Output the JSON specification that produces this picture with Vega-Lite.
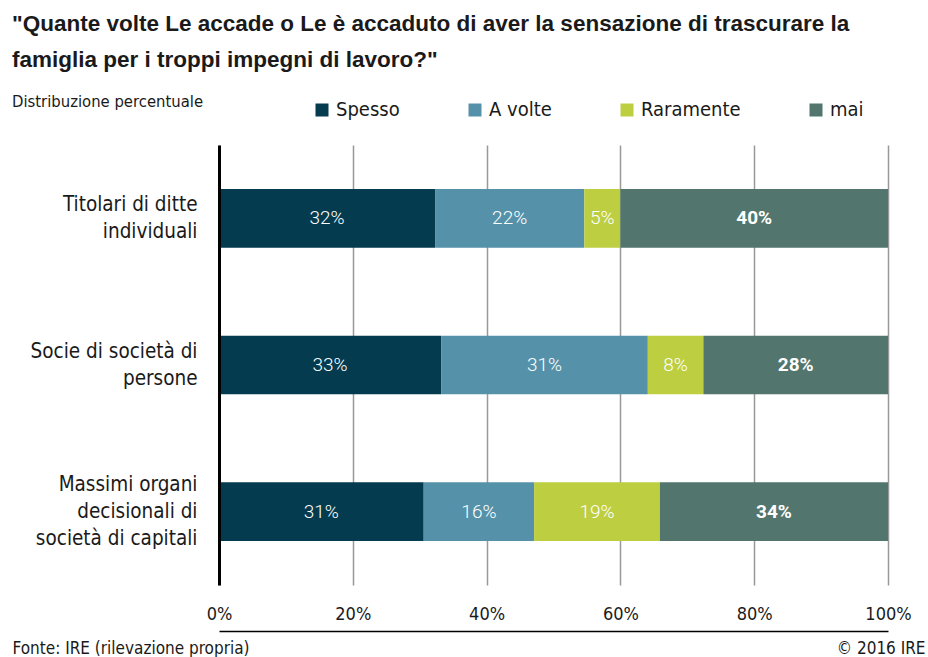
{
  "$schema": "https://vega.github.io/schema/vega-lite/v6.json",
  "width": 669,
  "height": 440,
  "autosize": {"type": "none"},
  "padding": {"left": 219, "top": 145, "right": 40, "bottom": 72},
  "background": "white",
  "config": {
    "view": {"stroke": null},
    "font": "DejaVu Sans Condensed, sans-serif"
  },
  "title": {
    "text": ["\"Quante volte Le accade o Le è accaduto di aver la sensazione di trascurare la", "famiglia per i troppi impegni di lavoro?\""],
    "subtitle": "Distribuzione percentuale",
    "anchor": "start",
    "frame": "group",
    "dx": -207,
    "font": "Liberation Sans",
    "fontSize": 22.5,
    "fontWeight": "bold",
    "lineHeight": 36,
    "color": "#1a1a1a",
    "subtitleFont": "DejaVu Sans Condensed",
    "subtitleFontSize": 16.5,
    "subtitleColor": "#1a1a1a",
    "subtitlePadding": 22,
    "offset": -10
  },
  "data": {
    "values": [
      {"cat": "Titolari di ditte|individuali", "resp": "Spesso", "ord": 1, "value": 32.3, "label": "32%"},
      {"cat": "Titolari di ditte|individuali", "resp": "A volte", "ord": 2, "value": 22.3, "label": "22%"},
      {"cat": "Titolari di ditte|individuali", "resp": "Raramente", "ord": 3, "value": 5.4, "label": "5%"},
      {"cat": "Titolari di ditte|individuali", "resp": "mai", "ord": 4, "value": 40.0, "label": "40%"},
      {"cat": "Socie di società di|persone", "resp": "Spesso", "ord": 1, "value": 33.2, "label": "33%"},
      {"cat": "Socie di società di|persone", "resp": "A volte", "ord": 2, "value": 30.9, "label": "31%"},
      {"cat": "Socie di società di|persone", "resp": "Raramente", "ord": 3, "value": 8.3, "label": "8%"},
      {"cat": "Socie di società di|persone", "resp": "mai", "ord": 4, "value": 27.6, "label": "28%"},
      {"cat": "Massimi organi|decisionali di|società di capitali", "resp": "Spesso", "ord": 1, "value": 30.6, "label": "31%"},
      {"cat": "Massimi organi|decisionali di|società di capitali", "resp": "A volte", "ord": 2, "value": 16.5, "label": "16%"},
      {"cat": "Massimi organi|decisionali di|società di capitali", "resp": "Raramente", "ord": 3, "value": 18.8, "label": "19%"},
      {"cat": "Massimi organi|decisionali di|società di capitali", "resp": "mai", "ord": 4, "value": 34.1, "label": "34%"}
    ]
  },
  "transform": [
    {"stack": "value", "groupby": ["cat"], "sort": [{"field": "ord"}], "as": ["x0", "x1"]},
    {"calculate": "(datum.x0 + datum.x1) / 2", "as": "mid"}
  ],
  "encoding": {
    "y": {
      "field": "cat",
      "type": "nominal",
      "sort": ["Titolari di ditte|individuali", "Socie di società di|persone", "Massimi organi|decisionali di|società di capitali"],
      "scale": {"paddingInner": 0.6, "paddingOuter": 0.3},
      "axis": {
        "title": "Fonte: IRE (rilevazione propria)",
        "titleAngle": 0,
        "titleX": -207,
        "titleY": 503,
        "titleAlign": "left",
        "titleBaseline": "middle",
        "titleFontSize": 17,
        "titleFontWeight": "normal",
        "titleColor": "#1a1a1a",
        "domainColor": "black",
        "domainWidth": 3,
        "ticks": false,
        "labelPadding": 22,
        "labelFontSize": 20.5,
        "labelLineHeight": 27,
        "labelColor": "#1a1a1a",
        "labelLimit": 300,
        "labelExpr": "split(datum.label, '|')",
        "labelOffset": {"condition": {"test": "indexof(datum.value, 'capitali') >= 0", "value": -27}, "value": -13.5},
        "zindex": 1
      }
    }
  },
  "layer": [
    {
      "mark": {"type": "bar"},
      "encoding": {
        "x": {
          "field": "x0",
          "type": "quantitative",
          "scale": {"domain": [0, 100], "nice": false},
          "axis": {
            "values": [0, 20, 40, 60, 80, 100],
            "labelExpr": "datum.value + '%'",
            "grid": true,
            "gridColor": "#999999",
            "gridWidth": 1.5,
            "domain": true,
            "domainColor": "black",
            "domainWidth": 1.5,
            "offset": 46,
            "ticks": false,
            "tickSize": 0,
            "labelPadding": -26,
            "labelFontSize": 18,
            "labelColor": "#1a1a1a",
            "labelFlush": false,
            "labelOverlap": false,
            "title": "© 2016 IRE",
            "titleX": 706,
            "titleY": 17,
            "titleAlign": "right",
            "titleBaseline": "middle",
            "titleFontSize": 17,
            "titleFontWeight": "normal",
            "titleColor": "#1a1a1a"
          }
        },
        "x2": {"field": "x1"},
        "color": {
          "field": "resp",
          "type": "nominal",
          "sort": ["Spesso", "A volte", "Raramente", "mai"],
          "scale": {
            "domain": ["Spesso", "A volte", "Raramente", "mai"],
            "range": ["#043b4f", "#5592aa", "#bdce41", "#52766e"]
          },
          "legend": {
            "orient": "none",
            "legendX": 93,
            "legendY": -45,
            "direction": "horizontal",
            "title": null,
            "labelFontSize": 20,
            "labelColor": "#1a1a1a",
            "labelOffset": 4,
            "symbolType": "square",
            "symbolSize": 169,
            "symbolStrokeWidth": 0,
            "columnPadding": 65
          }
        }
      }
    },
    {
      "transform": [{"filter": "datum.resp != 'mai'"}],
      "mark": {"type": "text", "color": "white", "fontSize": 19, "font": "Roboto", "fontWeight": 300},
      "encoding": {
        "x": {"field": "mid", "type": "quantitative"},
        "text": {"field": "label"}
      }
    },
    {
      "transform": [{"filter": "datum.resp == 'mai'"}],
      "mark": {"type": "text", "color": "white", "fontSize": 19, "font": "Roboto", "fontWeight": "bold"},
      "encoding": {
        "x": {"field": "mid", "type": "quantitative"},
        "text": {"field": "label"}
      }
    }
  ]
}
